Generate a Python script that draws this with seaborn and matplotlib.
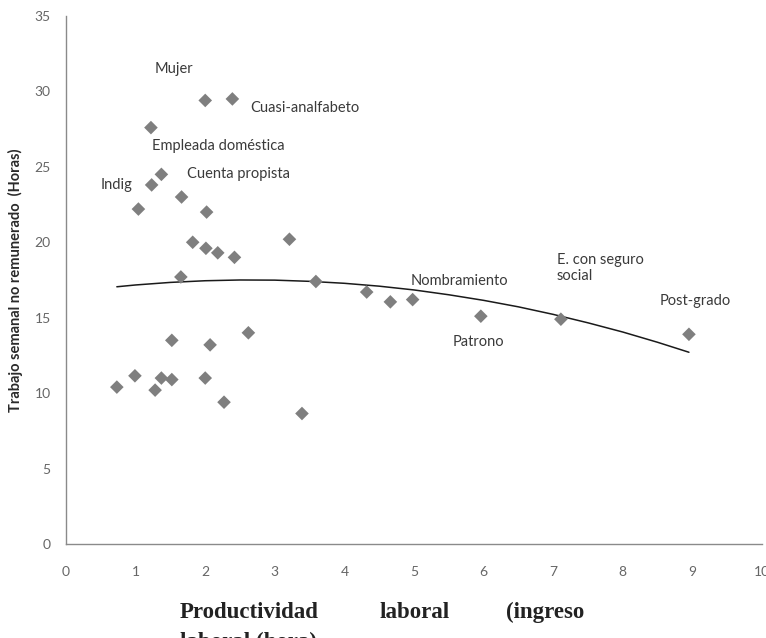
import numpy as np
import pandas as pd
import seaborn as sns
import matplotlib.pyplot as plt

# valores
productividad = [1.22, 2.00, 2.39, 1.37, 1.23, 1.66, 1.04, 2.02, 1.82, 2.01, 2.18, 2.42,
                 3.21, 1.65, 3.59, 4.32, 4.66, 4.98, 5.96, 7.11, 8.95,
                 0.73, 0.99, 1.28, 1.37, 1.52, 1.52, 2.00, 2.07, 2.27, 2.62, 3.39]
horas = [27.6, 29.4, 29.5, 24.5, 23.8, 23.0, 22.2, 22.0, 20.0, 19.6, 19.3, 19.0,
         20.2, 17.7, 17.4, 16.7, 16.05, 16.2, 15.1, 14.9, 13.9,
         10.4, 11.15, 10.2, 11.0, 13.5, 10.9, 11.0, 13.2, 9.4, 14.0, 8.65]

# linea de tendencia (polinomica)
tendencia_x = [0.73, 1.0, 1.5, 2.0, 2.5, 3.0, 3.5, 4.0, 4.5, 5.0, 5.5, 6.0,
               6.5, 7.0, 7.5, 8.0, 8.5, 8.95]
tendencia_y = [17.05, 17.17, 17.34, 17.45, 17.50, 17.49, 17.41, 17.28, 17.09, 16.84,
               16.52, 16.15, 15.72, 15.22, 14.66, 14.05, 13.37, 12.71]

etiquetas = ["Mujer", "Cuasi-analfabeto", "Empleada doméstica", "Cuenta propista", "Indig",
             "Nombramiento", "Patrono", "E. con seguro\nsocial", "Post-grado"]
etiq_x = [1.27, 2.65, 1.24, 1.74, 0.50, 4.95, 5.55, 7.05, 8.53]
etiq_y = [31.5, 28.9, 26.4, 24.5, 23.8, 17.4, 13.4, 18.3, 16.1]

df = pd.DataFrame({'x': productividad, 'y': horas})
df_tend = pd.DataFrame({'x': tendencia_x, 'y': tendencia_y})

sns.set_style("white")
plt.rcParams['font.family'] = ['Lato', 'DejaVu Sans']

fig = plt.figure(figsize=(7.66, 6.38), dpi=100)
ax = fig.add_axes([0.0862, 0.1473, 0.9086, 0.8277])

sns.scatterplot(data=df, x='x', y='y', marker='D', s=48, color='#7f7f7f',
                edgecolor='none', ax=ax, zorder=3)
sns.lineplot(data=df_tend, x='x', y='y', color='#1a1a1a', lw=1.1, ax=ax, zorder=2)

for t, xx, yy in zip(etiquetas, etiq_x, etiq_y):
    ax.text(xx, yy, t, fontsize=10.5, color='#3a3a3a', va='center', ha='left')

ax.set_xlim(0, 10)
ax.set_ylim(0, 35)
ax.set_xticks(range(0, 11))
ax.set_yticks(range(0, 36, 5))
ax.set_xlabel('')
ax.set_ylabel('Trabajo semanal no remunerado  (Horas)', fontsize=10.5, fontweight='bold',
              color='#2a2a2a')
ax.yaxis.set_label_coords(-0.062, 0.50)
for s in ['top', 'right']:
    ax.spines[s].set_visible(False)
for s in ['left', 'bottom']:
    ax.spines[s].set_color('#8a8a8a')
    ax.spines[s].set_linewidth(1.0)
ax.tick_params(axis='both', colors='#8a8a8a', labelcolor='#666666', labelsize=10,
               length=4, width=1, direction='out')
ax.tick_params(axis='x', pad=12)
ax.tick_params(axis='y', pad=7)

serif = ['Liberation Serif', 'DejaVu Serif']
kw = dict(fontsize=16.5, fontweight='bold', family=serif, color='#222222',
          va='center', ha='left')
fig.text(180 / 766, 1 - 612 / 638, 'Productividad', **kw)
fig.text(380 / 766, 1 - 612 / 638, 'laboral', **kw)
fig.text(506 / 766, 1 - 612 / 638, '(ingreso', **kw)
fig.text(180 / 766, 1 - 642 / 638, 'laboral (hora)', **kw)

fig.savefig('out.png', dpi=100)
